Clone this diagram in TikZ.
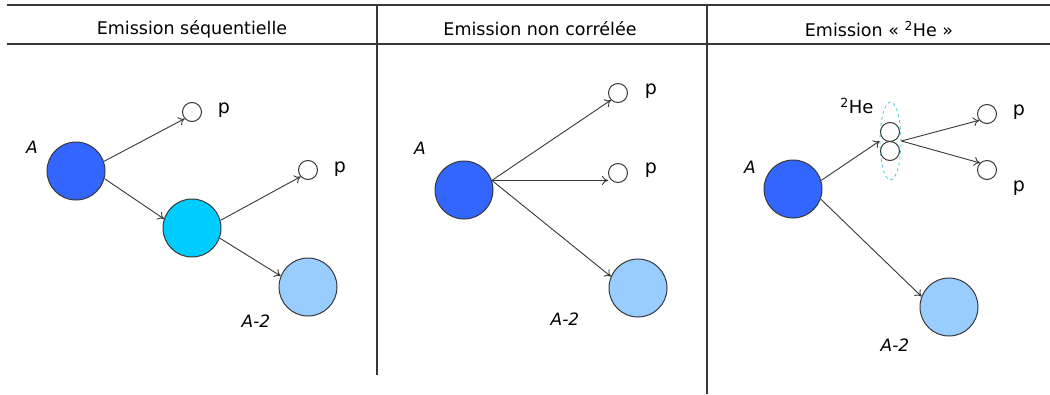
\documentclass[tikz,border=0pt]{standalone}
\usepackage{fontspec}
\setmainfont{DejaVu Sans}
\usetikzlibrary{shapes.geometric,arrows.meta}
\definecolor{dblue}{RGB}{51,102,255}
\definecolor{cyanb}{RGB}{0,204,255}
\definecolor{lblue}{RGB}{153,204,255}
\definecolor{edgec}{RGB}{55,55,55}
\definecolor{dashc}{RGB}{80,200,210}
\begin{document}
\begin{tikzpicture}[x=1pt,y=-1pt,
  big/.style={circle,draw=edgec,line width=1pt,minimum size=58pt,inner sep=0pt},
  small/.style={circle,draw=edgec,line width=1pt,fill=white,minimum size=19pt,inner sep=0pt},
  arr/.style={draw=edgec,line width=0.9pt,-{To[length=6pt,width=9pt]}},
  rulec/.style={draw=edgec,line width=1.3pt},
  head/.style={font=\fontsize{17.5}{20}\selectfont,inner sep=0pt},
  lab/.style={font=\fontsize{17}{20}\selectfont\itshape,inner sep=0pt},
  plab/.style={font=\fontsize{19}{22}\selectfont,inner sep=0pt}
]
\useasboundingbox (0,0) rectangle (1050,394);
% frame lines
\coordinate (tl) at (7,5); \coordinate (tr) at (1050,5);
\coordinate (bl) at (7,44); \coordinate (br) at (1050,44);
\coordinate (d1t) at (377,5); \coordinate (d1b) at (377,375);
\coordinate (d2t) at (707,5); \coordinate (d2b) at (707,394);
\draw[rulec] (tl) -- (tr);
\draw[rulec] (bl) -- (br);
\draw[rulec] (d1t) -- (d1b);
\draw[rulec] (d2t) -- (d2b);
% headers
\node[head] (h1) at (192,29) {Emission séquentielle};
\node[head] (h2) at (540,29) {Emission non corrélée};
\node[head] (h3) at (879,29) {Emission « \textsuperscript{2}He »};

% panel 1
\node[big,fill=dblue] (a1) at (76,171) {};
\node[lab] (la1) at (32,147) {A};
\node[small] (p1a) at (192,112) {};
\node[plab] (lp1a) at (224,110) {p};
\node[small] (p1b) at (308,170) {};
\node[plab] (lp1b) at (340,169) {p};
\node[big,fill=cyanb] (c1) at (192,228) {};
\node[big,fill=lblue] (b1) at (308,287) {};
\node[lab] (lb1) at (256,321) {A-2};
\draw[arr] (a1.19) -- (p1a.222);
\draw[arr] (a1.-15) -- (c1.162);
\draw[arr] (c1.15) -- (p1b.222);
\draw[arr] (c1.-20) -- (b1.158);

% panel 2
\node[big,fill=dblue] (a2) at (464,190) {};
\node[lab] (la2) at (420,148) {A};
\node[small] (p2a) at (618,93) {};
\node[plab] (lp2a) at (651,91) {p};
\node[small] (p2b) at (618,173) {};
\node[plab] (lp2b) at (651,170) {p};
\node[big,fill=lblue] (b2) at (638,288) {};
\node[lab] (lb2) at (565,319) {A-2};
\draw[arr] (a2.19) -- (p2a.225);
\draw[arr] (a2.19) -- (a2.19 -| p2b.west);
\draw[arr] (a2.19) -- (b2.157);

% panel 3
\node[big,fill=dblue] (a3) at (793,189) {};
\node[lab] (la3) at (750,167) {A};
\node[ellipse,draw=dashc,dashed,line width=0.8pt,minimum width=21pt,minimum height=78pt,inner sep=0pt] (ell) at (890.5,141) {};
\node[small] (he1) at (890,132) {};
\node[small] (he2) at (890,151) {};
\node[font=\fontsize{18}{20}\selectfont,inner sep=0pt] (lhe) at (857,106) {\textsuperscript{2}He};
\node[small] (p3a) at (987,114) {};
\node[plab] (lp3a) at (1019,112) {p};
\node[small] (p3b) at (987,170) {};
\node[plab] (lp3b) at (1019,188) {p};
\node[big,fill=lblue] (b3) at (949,307) {};
\node[lab] (lb3) at (895,345) {A-2};
\draw[arr] (a3.17) -- (ell.west);
\draw[arr] (ell.east) -- (p3a.219);
\draw[arr] (ell.east) -- (p3b.135);
\draw[arr] (a3.-20) -- (b3.159);
\end{tikzpicture}
\end{document}
